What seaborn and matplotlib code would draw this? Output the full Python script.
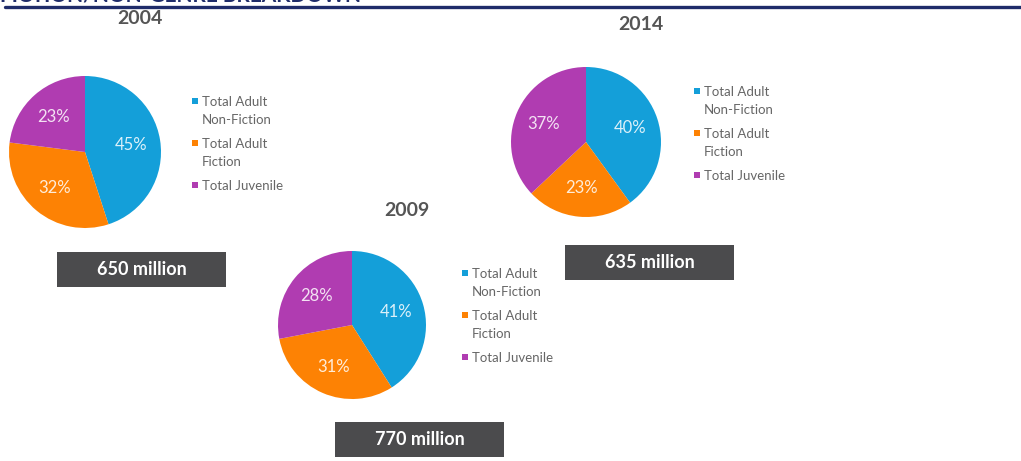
import matplotlib
matplotlib.use("Agg")
import matplotlib.pyplot as plt
from matplotlib.patches import Rectangle
from matplotlib.lines import Line2D
import seaborn as sns

# Genre share of unit sales per year (percent)
years = ["2004", "2009", "2014"]
categories = ["Total Adult\nNon-Fiction", "Total Adult\nFiction", "Total Juvenile"]
share_2004 = [45, 32, 23]
share_2009 = [41, 31, 28]
share_2014 = [40, 23, 37]
totals = ["650 million", "770 million", "635 million"]

sns.set_theme(style="white")
plt.rcParams["font.family"] = ["Lato", "DejaVu Sans"]
palette = sns.color_palette(["#149fd9", "#fd8204", "#b03cb1"])

W, H = 1021, 461
fig = plt.figure(figsize=(W / 100, H / 100), dpi=100)
fig.patch.set_facecolor("white")


def fx(x):
    return x / W


def fy(y):
    return 1 - y / H


# header rule and heading running off the top edge
fig.add_artist(Line2D([fx(5), fx(1021)], [fy(7), fy(7)], color="#1f2c6a",
                      linewidth=2.4, transform=fig.transFigure))
fig.text(fx(0), fy(1.2), "FICTION/NON-GENRE BREAKDOWN", color="#1f2c6a",
         fontsize=15, fontweight="bold", va="baseline", ha="left")

panels = [
    # year, shares, total, pie centre/radius, title pos, legend pos, box pos
    (years[0], share_2004, totals[0], (85, 152, 76), (140, 19), (192, 101), (57, 252)),
    (years[1], share_2009, totals[1], (352, 325, 74), (407, 211), (462, 273), (335, 422)),
    (years[2], share_2014, totals[2], (586, 142, 75), (641, 25), (694, 91), (565, 245)),
]

LEGEND_STEP = 42

for year, shares, total, (cx, cy, r), (tx, ty), (lx, ly), (bx, by) in panels:
    ax = fig.add_axes([fx(cx - r), fy(cy + r), 2 * r / W, 2 * r / H])
    wedges, _, autotexts = ax.pie(
        shares, colors=palette, startangle=90, counterclock=False,
        autopct="%d%%", pctdistance=0.62,
        wedgeprops=dict(linewidth=0),
        textprops=dict(color="white", alpha=0.85, fontsize=12),
    )
    ax.set_xlim(-1, 1)
    ax.set_ylim(-1, 1)
    ax.set_aspect("equal")
    ax.axis("off")

    fig.text(fx(tx), fy(ty), year, ha="center", va="center", fontsize=14,
             fontweight="bold", color="#555555")

    # legend: square swatch level with the first line of each label
    for i, (label, wedge) in enumerate(zip(categories, wedges)):
        y0 = ly + i * LEGEND_STEP
        fig.add_artist(Rectangle((fx(lx), fy(y0 + 3)), 6 / W, 6 / H,
                                 transform=fig.transFigure,
                                 facecolor=wedge.get_facecolor(), edgecolor="none"))
        fig.text(fx(lx + 10), fy(y0 - 5.5), label, ha="left", va="top",
                 fontsize=9.5, color="#666666", linespacing=1.65)

    fig.add_artist(Rectangle((fx(bx), fy(by + 35)), 169 / W, 35 / H,
                             transform=fig.transFigure, facecolor="#4b4b4d",
                             edgecolor="none"))
    fig.text(fx(bx + 84.5), fy(by + 17.5), total, ha="center", va="center",
             fontsize=13, fontweight="bold", color="white")

fig.savefig("out.png", dpi=100)
